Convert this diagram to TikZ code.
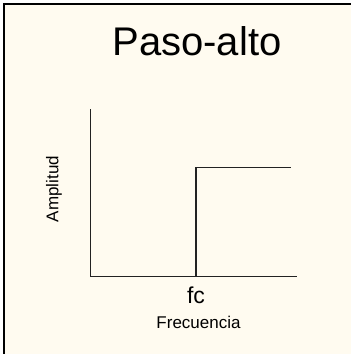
\documentclass[tikz,border=0pt]{standalone}
\usepackage{fontspec}
\setmainfont{Liberation Sans}
\usetikzlibrary{positioning}
\definecolor{papel}{RGB}{255,251,240}
\definecolor{trazo}{RGB}{34,34,34}
\tikzstyle{axis} = [draw=trazo, line width=1.6pt]
\tikzstyle{curve} = [draw=trazo, line width=1.6pt]
\tikzstyle{caption} = [inner sep=0pt, text=black]
\tikzstyle{title} = [caption, font=\fontsize{40}{40}\selectfont]
\tikzstyle{tick} = [caption, font=\fontsize{23}{23}\selectfont]
\tikzstyle{axislabel} = [caption, font=\fontsize{17}{17}\selectfont]

\begin{document}
\begin{tikzpicture}[x=1pt, y=-1pt]
  % marco
  \useasboundingbox (0,0) rectangle (351,354);
  \fill[white] (0,0) rectangle (351,354);
  \fill[papel] (4,4) rectangle (351,354);
  \draw[line width=2.5pt] (4,354) -- (4,4) -- (351,4);

  \node[title, anchor=base] (titulo) at (197,55) {Paso-alto};

  % ejes
  \coordinate (o) at (90.5,276.5);
  \coordinate (ytop) at (90.5,109);
  \coordinate (xend) at (297,276.5);
  \draw[axis] (ytop) -- (o) -- (xend);

  % respuesta
  \coordinate (fcpt) at (196,276.5);
  \coordinate (alto) at (196,167.5);
  \coordinate (fin) at (290.5,167.5);
  \draw[curve] (fcpt) -- (alto) -- (fin);

  \node[tick, anchor=base] (fc) at (196,303) {fc};
  \node[axislabel, anchor=base] (frec) at (198.5,328) {Frecuencia};
  \node[axislabel, rotate=90] (amp) at (54,189) {Amplitud};
\end{tikzpicture}
\end{document}
